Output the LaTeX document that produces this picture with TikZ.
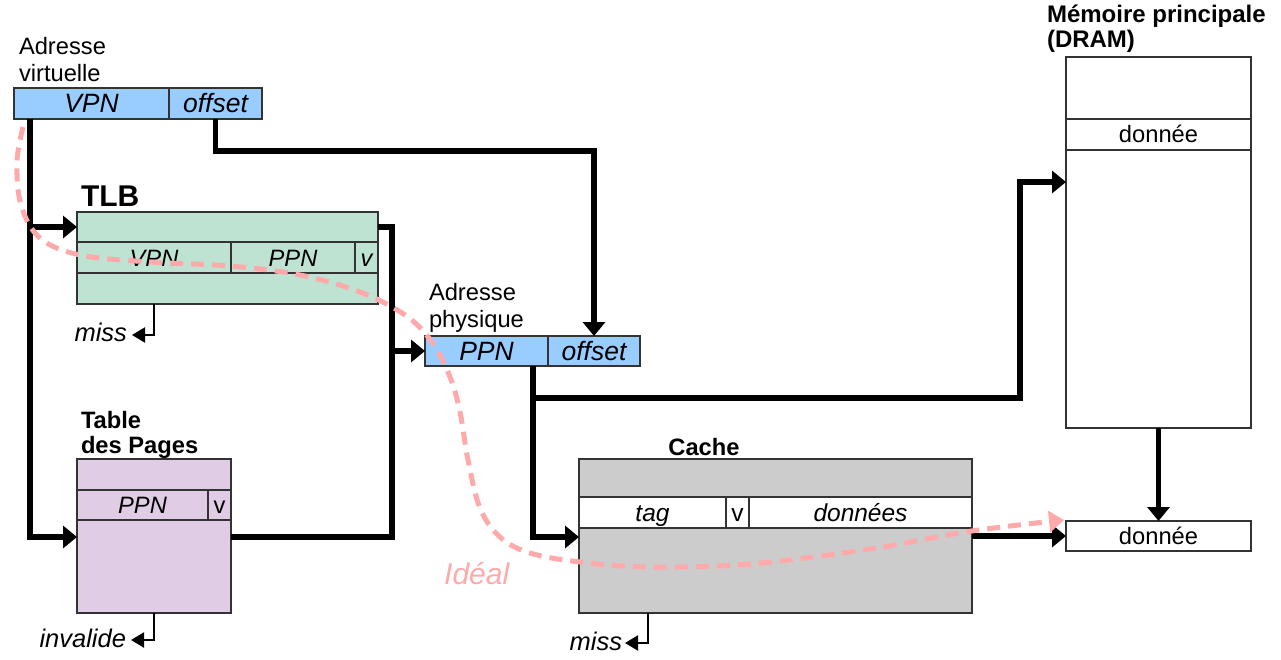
\documentclass[tikz,border=0pt]{standalone}
\usepackage{fontspec}
\setmainfont{Liberation Sans}
\usetikzlibrary{arrows.meta,calc}
\definecolor{addrblue}{RGB}{153,204,255}
\definecolor{tlbgreen}{RGB}{191,227,210}
\definecolor{ptpurple}{RGB}{224,204,228}
\definecolor{cachegray}{RGB}{204,204,204}
\definecolor{idealpink}{RGB}{255,170,170}
\definecolor{edgegray}{RGB}{51,51,51}
\tikzset{
  box/.style={draw=edgegray, line width=1.4pt, inner sep=0pt, outer sep=0pt, anchor=north west},
  cell/.style={box, text depth=0pt},
  fA/.style={font=\fontsize{23.7}{27}\selectfont, text height=17pt},
  fB/.style={font=\fontsize{26.5}{30}\selectfont, text height=19pt},
  fC/.style={font=\fontsize{24.5}{28}\selectfont, text height=17.5pt},
  conn/.style={line width=5.5pt, -{Triangle[length=14pt,width=22pt]}},
  wire/.style={line width=5.5pt},
  small/.style={line width=2.2pt, -{Triangle[length=13pt,width=15pt]}},
  lbl/.style={inner sep=0pt, outer sep=0pt, align=left},
  misslbl/.style={inner sep=0pt, outer sep=0pt, font=\fontsize{25.5}{29}\selectfont\itshape},
  idealline/.style={draw=idealpink, line width=5pt, dash pattern=on 13pt off 8pt,
     -{Triangle[length=15pt,width=21pt]}},
}
\begin{document}
\begin{tikzpicture}[x=1pt,y=-1pt]
\useasboundingbox (0,0) rectangle (1281,660);

% ---- virtual address
\node[lbl, font=\fontsize{23.7}{27}\selectfont, anchor=north west] (vlab) at (19,37.5) {Adresse\\virtuelle};
\node[cell, fB, fill=addrblue, minimum width=155pt, minimum height=31pt] (vvpn) at (14,88) {\itshape VPN};
\node[cell, fB, fill=addrblue, minimum width=93pt, minimum height=31pt] (voff) at (169,88) {\itshape offset};

% ---- TLB
\node[lbl, anchor=base west, font=\fontsize{30}{34}\selectfont\bfseries] (tlblab) at (81,207) {TLB};
\node[box, fill=tlbgreen, minimum width=301pt, minimum height=92pt] (tlb) at (77,212) {};
\node[cell, fA, fill=tlbgreen, minimum width=154pt, minimum height=31pt] (tvpn) at (77,242) {\itshape VPN};
\node[cell, fA, fill=tlbgreen, minimum width=124pt, minimum height=31pt] (tppn) at (231,242) {\itshape PPN};
\node[cell, fA, fill=tlbgreen, minimum width=23pt, minimum height=31pt] (tv) at (355,242) {\itshape v};

% ---- physical address
\node[lbl, font=\fontsize{23.7}{27}\selectfont, anchor=north west] (plab) at (429,283) {Adresse\\physique};
\node[cell, fB, fill=addrblue, minimum width=123pt, minimum height=30pt] (pppn) at (425,336) {\itshape PPN};
\node[cell, fB, fill=addrblue, minimum width=92pt, minimum height=30pt] (poff) at (548,336) {\itshape offset};

% ---- page table
\node[lbl, anchor=north west, font=\fontsize{23.7}{25}\selectfont\bfseries] (ptlab) at (81,411) {Table\\des Pages};
\node[box, fill=ptpurple, minimum width=154pt, minimum height=154pt] (pt) at (77,459) {};
\node[cell, fA, fill=ptpurple, minimum width=131pt, minimum height=30pt] (pppn2) at (77,490) {\itshape PPN};
\node[cell, fA, fill=ptpurple, minimum width=23pt, minimum height=30pt] (ptv) at (208,490) {v};

% ---- cache
\node[lbl, anchor=base, font=\fontsize{23.7}{27}\selectfont\bfseries] (clab) at (704,455) {Cache};
\node[box, fill=cachegray, minimum width=393pt, minimum height=154pt] (cache) at (579,459) {};
\node[cell, fC, fill=white, minimum width=147pt, minimum height=31pt] (ctag) at (579,497) {\itshape tag};
\node[cell, fC, fill=white, minimum width=23pt, minimum height=31pt] (cv) at (726,497) {v};
\node[cell, fC, fill=white, minimum width=223pt, minimum height=31pt] (cdat) at (749,497) {\itshape données};

% ---- DRAM
\node[lbl, anchor=north west, font=\fontsize{24}{25}\selectfont\bfseries] (dlab) at (1047,4.5) {Mémoire principale\\(DRAM)};
\node[box, fill=white, minimum width=185pt, minimum height=371pt] (dram) at (1066,57) {};
\node[cell, fA, fill=white, minimum width=185pt, minimum height=31pt] (drow) at (1066,119) {donnée};

% ---- output data
\node[cell, fA, fill=white, minimum width=185pt, minimum height=30pt] (dout) at (1066,521) {donnée};

% ---- junction coordinates
\coordinate (vsrc) at ($(vvpn.south west)+(16,0)$);
\coordinate (tlbin) at ($(tlb.north west)+(0,15)$);
\coordinate (ptin) at ($(pt.north west)+(0,78)$);
\coordinate (tlbout) at ($(tlb.north east)+(0,15)$);
\coordinate (ptout) at ($(pt.north east)+(0,78)$);
\coordinate (bus) at ($(tlbout)+(14,0)$);
\coordinate (ppnsrc) at ($(pppn.south east)+(-15,0)$);
\coordinate (ppnsplit) at ($(ppnsrc)+(0,32)$);
\coordinate (cachein) at ($(cache.north west)+(0,78)$);
\coordinate (dramin) at ($(dram.north west)+(0,125)$);
\coordinate (riser) at ($(dramin)+(-46,0)$);

% ---- connectors
\draw[conn] (vsrc) |- (ptin);
\draw[conn] (vsrc |- tlbin) -- (tlbin);
\draw[conn] (voff.south) -- ++(0,32) -| (poff.north);
\draw[conn] (tlbout) -| (bus |- pppn.west) -- (pppn.west);
\draw[wire] (ptout) -| (bus |- pppn.west);
\draw[conn] (ppnsrc) |- (cachein);
\draw[conn] (ppnsplit) -| (riser) -- (dramin);
\draw[conn] (cache.east |- dout.west) -- (dout.west);
\draw[conn] (dram.south) -- (dout.north);

% ---- miss / invalide
\node[misslbl, anchor=base east] (miss1) at (127,341) {miss};
\draw[small] ($(tlb.south west)+(77,0)$) |- ($(miss1.base east)+(5,-6)$);
\node[misslbl, anchor=base east] (inval) at (126,647) {invalide};
\draw[small] ($(pt.south west)+(77,0)$) |- ($(inval.base east)+(5,-7)$);
\node[misslbl, anchor=base east] (miss2) at (622,650) {miss};
\draw[small] ($(cache.south west)+(69,0)$) |- ($(miss2.base east)+(3,-7)$);

% ---- ideal path
\coordinate (istart) at ($(vvpn.south west)+(9,8)$);
\draw[idealline] plot[smooth, tension=0.6] coordinates {
  (istart) (17,162) (21,205) (40,238) (80,255) (150,262) (230,266) (300,275)
  (360,292) (405,315) (432,342) (450,377) (460,412) (468,460) (480,508)
  (500,537) (530,553) (580,562) (650,567) (750,564) (870,549) (972,531) (1064,520)};
\node[inner sep=0pt, anchor=base west, text=idealpink, font=\fontsize{30}{34}\selectfont\itshape] (ideallab) at (444,584) {Idéal};
\end{tikzpicture}
\end{document}
